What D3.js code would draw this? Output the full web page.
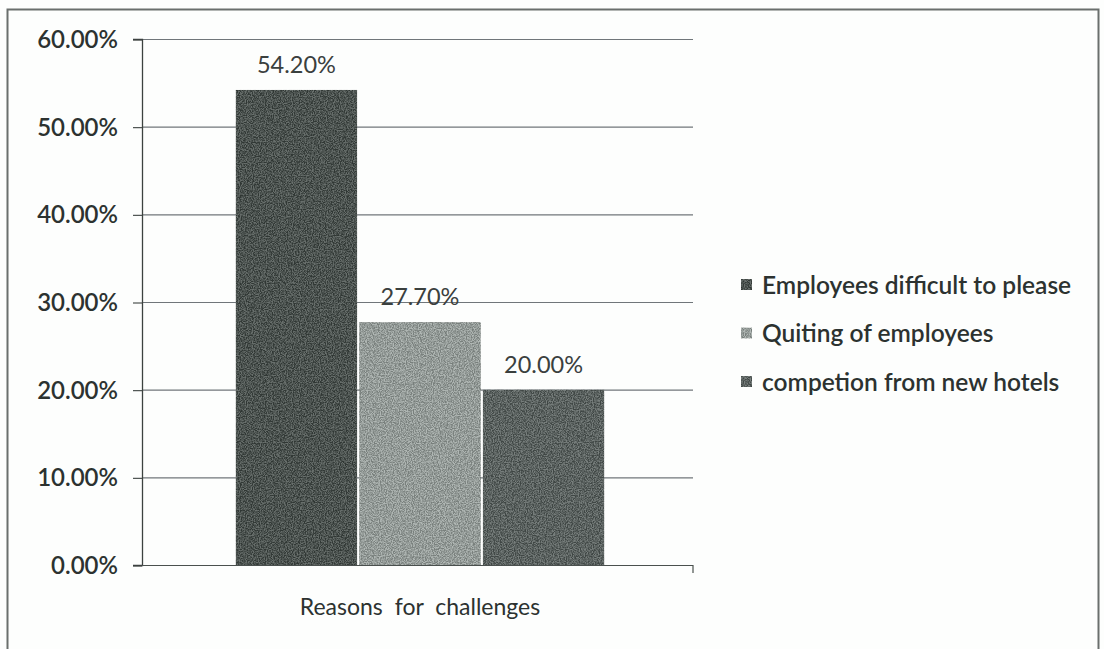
<!DOCTYPE html>
<html>
<head>
<meta charset="utf-8">
<script src="https://cdn.jsdelivr.net/npm/d3@7/dist/d3.min.js"></script>
<style>
  html, body { margin: 0; padding: 0; background: #fdfefd; }
  svg { display: block; font-family: Lato, "Open Sans", sans-serif; }
</style>
</head>
<body>
<svg id="chart" width="1104" height="649"></svg>
<script>
// Survey results: reasons for challenges
const category = "Reasons for challenges";
const seriesNames = ["Employees difficult to please", "Quiting of employees", "competion from new hotels"];
const seriesValues = [54.2, 27.7, 20.0];
const seriesColors = ["#4c5350", "#949b98", "#5b6260"];
const yTicks = [0, 10, 20, 30, 40, 50, 60];

const svg = d3.select("#chart");

// grain texture used on the bars
const defs = svg.append("defs");
const grain = defs.append("filter").attr("id", "grain")
  .attr("x", 0).attr("y", 0).attr("width", 1).attr("height", 1)
  .attr("color-interpolation-filters", "sRGB");
grain.append("feTurbulence").attr("type", "fractalNoise")
  .attr("baseFrequency", 0.85).attr("numOctaves", 2).attr("seed", 4).attr("result", "noise");
grain.append("feColorMatrix").attr("in", "noise").attr("type", "matrix")
  .attr("values", "3 0 0 0 -1  3 0 0 0 -1  3 0 0 0 -1  0 0 0 0 1").attr("result", "gray");
grain.append("feComposite").attr("in", "SourceGraphic").attr("in2", "gray")
  .attr("operator", "arithmetic").attr("k1", 0).attr("k2", 1).attr("k3", 0.22).attr("k4", -0.11)
  .attr("result", "mixed");
grain.append("feComposite").attr("in", "mixed").attr("in2", "SourceAlpha").attr("operator", "in");

// outer frame
svg.append("rect")
  .attr("x", 7.5).attr("y", 9.5).attr("width", 1091).attr("height", 650)
  .attr("fill", "none").attr("stroke", "#6a6f6d").attr("stroke-width", 2);

const plot = { left: 142, right: 698, top: 39, bottom: 565 };

const y = d3.scaleLinear().domain([0, 60]).range([plot.bottom, plot.top]);
const x0 = d3.scaleBand().domain([category]).range([plot.left, plot.right]).paddingInner(0).paddingOuter(0.25);
const x1 = d3.scaleBand().domain(seriesNames).range([0, x0.bandwidth()]).padding(0);

// gridlines
svg.append("g")
  .selectAll("line").data(yTicks).join("line")
  .attr("x1", plot.left).attr("x2", 693)
  .attr("y1", d => y(d) + 0.5).attr("y2", d => y(d) + 0.5)
  .attr("stroke", "#70767a").attr("stroke-width", 1.1);

// y axis
const yAxis = svg.append("g")
  .attr("transform", `translate(${plot.left},0)`)
  .call(d3.axisLeft(y).tickValues(yTicks).tickSize(9).tickPadding(15)
    .tickFormat(d => d.toFixed(2) + "%"));
yAxis.select(".domain").attr("stroke", "#3c4240").attr("stroke-width", 1.3);
yAxis.selectAll(".tick line").attr("stroke", "#3c4240").attr("stroke-width", 1.1)
  .attr("transform", "translate(0,0.5)");
yAxis.selectAll(".tick text")
  .attr("fill", "#2c3230").attr("font-size", 24).attr("font-weight", 600)
  .attr("font-family", "Lato, sans-serif").attr("dy", "0.36em");

// x axis baseline with end tick
svg.append("line")
  .attr("x1", plot.left).attr("x2", 693)
  .attr("y1", plot.bottom + 0.5).attr("y2", plot.bottom + 0.5)
  .attr("stroke", "#4a504e").attr("stroke-width", 1.2);
svg.append("line")
  .attr("x1", 693).attr("x2", 693)
  .attr("y1", plot.bottom).attr("y2", plot.bottom + 8)
  .attr("stroke", "#4a504e").attr("stroke-width", 1.2);

// bars
const group = svg.append("g").attr("transform", `translate(${x0(category)},0)`);
const data = seriesNames.map((name, i) => ({ name, value: seriesValues[i], color: seriesColors[i] }));
group.selectAll("rect").data(data).join("rect")
  .attr("x", d => x1(d.name) + 1)
  .attr("width", x1.bandwidth() - 2)
  .attr("y", d => y(d.value))
  .attr("height", d => y(0) - y(d.value))
  .attr("fill", d => d.color)
  .attr("filter", "url(#grain)");

// value labels
group.selectAll("text.value").data(data).join("text")
  .attr("class", "value")
  .attr("x", d => x1(d.name) + x1.bandwidth() / 2)
  .attr("y", d => y(d.value) - 17)
  .attr("text-anchor", "middle")
  .attr("font-size", 23.5).attr("fill", "#3a403e")
  .text(d => d.value.toFixed(2) + "%");

// category label
svg.append("text")
  .attr("x", x0(category) + x0.bandwidth() / 2)
  .attr("y", 615)
  .attr("text-anchor", "middle")
  .attr("font-size", 23).attr("fill", "#2c3230")
  .attr("word-spacing", 6)
  .text(category);

// legend
const legend = svg.append("g").attr("transform", "translate(741,285)");
const rows = legend.selectAll("g").data(data).join("g")
  .attr("transform", (d, i) => `translate(0,${i * 48.5})`);
rows.append("rect")
  .attr("x", 0).attr("y", -6).attr("width", 11).attr("height", 11)
  .attr("fill", d => d.color).attr("filter", "url(#grain)");
rows.append("text")
  .attr("x", 21).attr("y", 0).attr("dy", "0.35em")
  .attr("font-size", 24.5).attr("font-weight", 600).attr("fill", "#2c3230")
  .text(d => d.name);
</script>
</body>
</html>
